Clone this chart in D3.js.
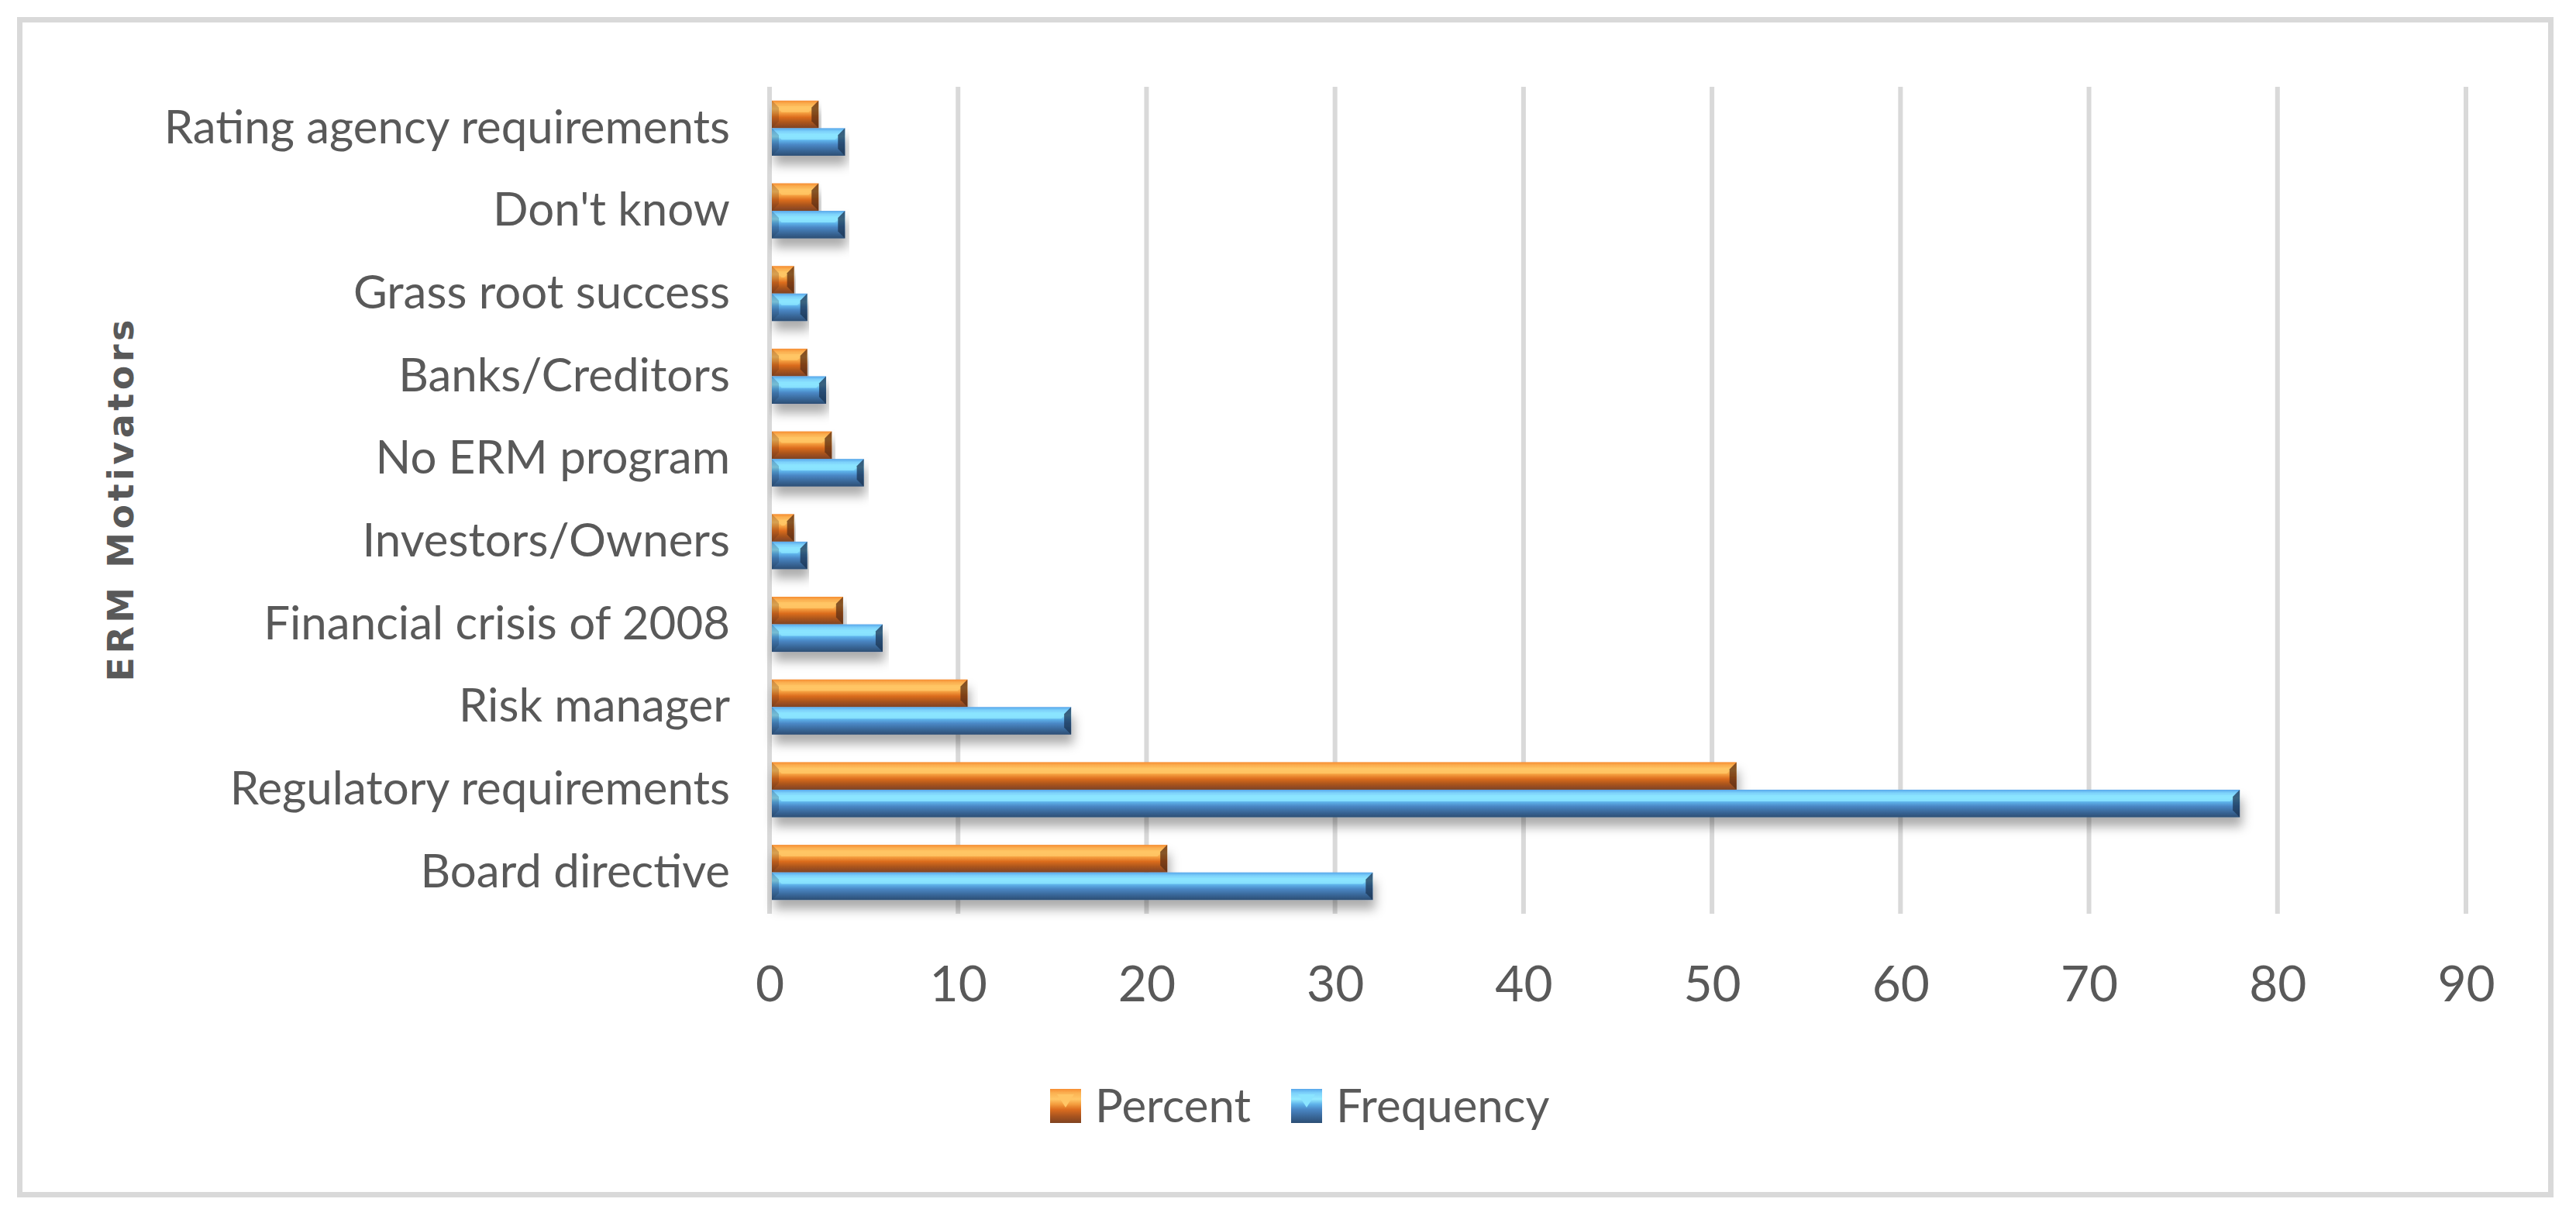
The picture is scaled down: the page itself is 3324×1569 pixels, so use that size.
<!DOCTYPE html>
<html>
<head>
<meta charset="utf-8">
<script src="https://cdn.jsdelivr.net/npm/d3@7"></script>
<style>
  html, body { margin: 0; padding: 0; background: #fff; }
  svg { display: block; }
  text { fill: #595959; }
</style>
</head>
<body>
<div class="container"></div>
<script>
const categories = [
  "Board directive",
  "Regulatory requirements",
  "Risk manager",
  "Financial crisis of 2008",
  "Investors/Owners",
  "No ERM program",
  "Banks/Creditors",
  "Grass root success",
  "Don't know",
  "Rating agency requirements",
];
const frequency = [32, 78, 16, 6, 2, 5, 3, 2, 4, 4];
const percent = [21.1, 51.3, 10.5, 3.9, 1.3, 3.3, 2.0, 1.3, 2.6, 2.6];
const seriesNames = ["Percent", "Frequency"];
const xTicks = [0, 10, 20, 30, 40, 50, 60, 70, 80, 90];
const axisTitle = "ERM Motivators";

const width = 3324;
const height = 1569;
const plot = { left: 993, right: 3182, top: 112, bottom: 1179 };
const labelFont = "Lato, 'Open Sans', sans-serif";

const palettes = {
  Percent: {
    stops: ["#f68d32", "#fbb152", "#ffc767", "#f49d3e", "#dc6d1f", "#a9541f", "#7f4321"],
    cap: "#5e2f12",
    light: "#ffc565",
  },
  Frequency: {
    stops: ["#58a6ea", "#7dd2fb", "#95ebff", "#5eb2ea", "#4a87c5", "#3a699b", "#2c4e74"],
    cap: "#1c3654",
    light: "#8ae4ff",
  },
};

const svg = d3
  .select(".container")
  .append("svg")
  .attr("width", width)
  .attr("height", height);

const defs = svg.append("defs");

Object.entries(palettes).forEach(([name, p]) => {
  const grad = defs
    .append("linearGradient")
    .attr("id", `grad-${name}`)
    .attr("x1", 0)
    .attr("y1", 0)
    .attr("x2", 0)
    .attr("y2", 1);
  const offsets = [0, 0.12, 0.3, 0.45, 0.6, 0.8, 1];
  p.stops.forEach((c, i) => {
    grad.append("stop").attr("offset", offsets[i]).attr("stop-color", c);
  });
});

const shadow = defs
  .append("filter")
  .attr("id", "shadow")
  .attr("x", "-5%")
  .attr("y", "-20%")
  .attr("width", "110%")
  .attr("height", "200%");
shadow
  .append("feDropShadow")
  .attr("dx", 3)
  .attr("dy", 12)
  .attr("stdDeviation", 7)
  .attr("flood-color", "#000")
  .attr("flood-opacity", 0.33);

// outer frame
svg
  .append("rect")
  .attr("x", 25.5)
  .attr("y", 25.5)
  .attr("width", 3266)
  .attr("height", 1516)
  .attr("fill", "none")
  .attr("stroke", "#d9d9d9")
  .attr("stroke-width", 7);

const x = d3.scaleLinear().domain([0, 90]).range([plot.left, plot.right]);

const y = d3
  .scaleBand()
  .domain(categories.slice().reverse())
  .range([plot.top, plot.bottom]);

const ySub = d3
  .scaleBand()
  .domain(seriesNames)
  .range([0, y.bandwidth()])
  .paddingOuter(0.5);

// gridlines
svg
  .append("g")
  .selectAll("line")
  .data(xTicks)
  .join("line")
  .attr("x1", (d) => x(d))
  .attr("x2", (d) => x(d))
  .attr("y1", plot.top)
  .attr("y2", plot.bottom)
  .attr("stroke", "#d9d9d9")
  .attr("stroke-width", 6);

// x axis labels
const xAxis = svg
  .append("g")
  .attr("transform", `translate(0,${plot.bottom})`)
  .call(d3.axisBottom(x).tickValues(xTicks).tickSize(0).tickPadding(68));
xAxis.select(".domain").remove();
xAxis
  .selectAll("text")
  .attr("font-family", labelFont)
  .attr("font-size", 64)
  .attr("fill", "#595959");

// y axis labels
const yAxis = svg
  .append("g")
  .attr("transform", `translate(${plot.left},0)`)
  .call(d3.axisLeft(y).tickSize(0).tickPadding(51));
yAxis.select(".domain").remove();
yAxis
  .selectAll("text")
  .attr("font-family", labelFont)
  .attr("font-size", 60)
  .attr("fill", "#595959");

// axis title
svg
  .append("text")
  .attr("transform", "translate(172,646) rotate(-90)")
  .attr("text-anchor", "middle")
  .attr("font-family", "'DejaVu Sans', Verdana, sans-serif")
  .attr("font-weight", "bold")
  .attr("font-size", 46)
  .attr("textLength", 467)
  .attr("lengthAdjust", "spacing")
  .text(axisTitle);

function drawBar(g, x0, y0, w, h, name) {
  const p = palettes[name];
  const x1 = x0 + w;
  const b = Math.min(9, w / 2);
  const bar = g.append("g").attr("filter", "url(#shadow)");

  bar
    .append("rect")
    .attr("x", x0)
    .attr("y", y0)
    .attr("width", w)
    .attr("height", h)
    .attr("fill", `url(#grad-${name})`);

  // top highlight face
  bar
    .append("polygon")
    .attr(
      "points",
      [
        [x0 + b * 0.6, y0 + h * 0.2],
        [x1 - b * 0.6, y0 + h * 0.2],
        [x1 - b * 1.4, y0 + h * 0.42],
        [x0 + b * 1.4, y0 + h * 0.42],
      ].join(" ")
    )
    .attr("fill", p.light)
    .attr("opacity", 0.85);

  // left bevel
  bar
    .append("polygon")
    .attr("points", [[x0, y0], [x0 + b, y0 + b], [x0 + b, y0 + h - b], [x0, y0 + h]].join(" "))
    .attr("fill", p.cap)
    .attr("opacity", 0.25);

  // right bevel
  bar
    .append("polygon")
    .attr("points", [[x1, y0], [x1 - b, y0 + b], [x1 - b, y0 + h - b], [x1, y0 + h]].join(" "))
    .attr("fill", p.cap)
    .attr("opacity", 0.75);
}

const barsG = svg.append("g");
const seriesValues = { Percent: percent, Frequency: frequency };

categories.forEach((cat, i) => {
  seriesNames.forEach((name) => {
    const v = seriesValues[name][i];
    const x0 = x(0) + 3;
    const w = Math.max(0, x(v) - x0);
    drawBar(barsG, x0, y(cat) + ySub(name), w, ySub.bandwidth(), name);
  });
});

// legend
const legend = svg.append("g").attr("transform", "translate(1355,1405)");
const legendOffsets = [0, 311];
seriesNames.forEach((name, i) => {
  const p = palettes[name];
  const item = legend.append("g").attr("transform", `translate(${legendOffsets[i]},0)`);
  item
    .append("rect")
    .attr("width", 40)
    .attr("height", 44)
    .attr("fill", `url(#grad-${name})`);
  item
    .append("polygon")
    .attr("points", "9,7 31,7 20,24")
    .attr("fill", p.light);
  item
    .append("text")
    .attr("x", 58)
    .attr("y", 22)
    .attr("dy", "0.35em")
    .attr("font-family", labelFont)
    .attr("font-size", 60)
    .attr("fill", "#595959")
    .text(name);
});
</script>
</body>
</html>
